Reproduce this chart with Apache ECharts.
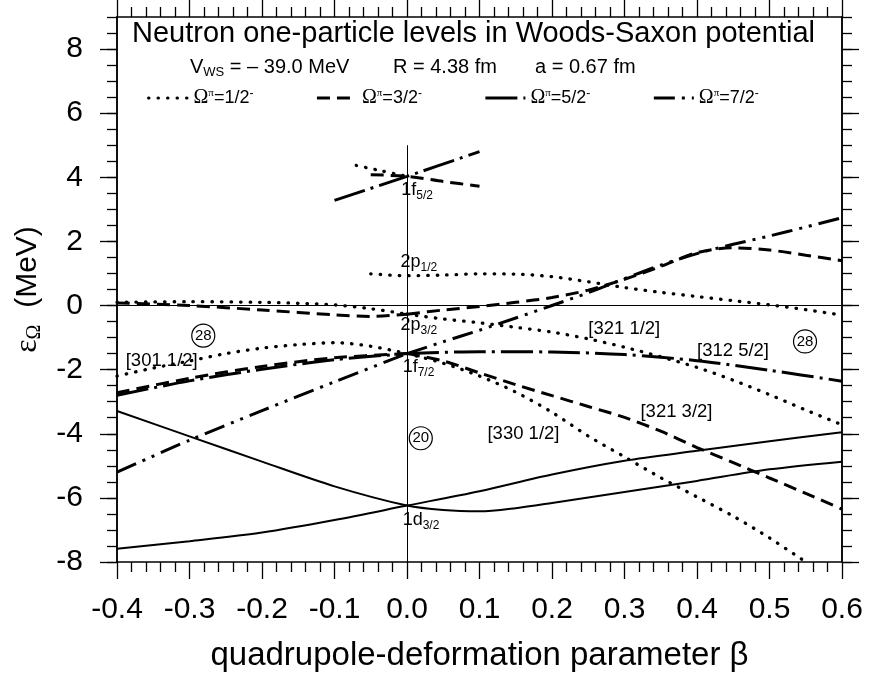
<!DOCTYPE html>
<html>
<head>
<meta charset="utf-8">
<title>Neutron one-particle levels in Woods-Saxon potential</title>
<script src="https://cdn.jsdelivr.net/npm/echarts@6/dist/echarts.min.js"></script>
<style>
  html, body { margin: 0; padding: 0; background: #fff; }
  #chart { width: 870px; height: 677px; }
</style>
</head>
<body>
<div id="chart"></div>
<script>
// axis tick labels
const xTicks = [-0.4, -0.3, -0.2, -0.1, 0.0, 0.1, 0.2, 0.3, 0.4, 0.5, 0.6];
const yTicks = [-8, -6, -4, -2, 0, 2, 4, 6, 8];

// Omega = 1/2 (dotted)
const half_p32_left = [[-0.4, 0.1], [-0.3, 0.12], [-0.2, 0.1], [-0.15, 0.07], [-0.1, 0.02], [-0.05, -0.1], [0, -0.27]];
const half_p32_right = [[0, -0.27], [0.05, -0.42], [0.1, -0.54], [0.15, -0.68], [0.2, -0.83], [0.25, -1.04], [0.3, -1.3],
  [0.35, -1.6], [0.4, -1.93], [0.45, -2.33], [0.5, -2.78], [0.55, -3.26], [0.6, -3.72]];
const half_f72_left = [[-0.4, -2.2], [-0.35, -1.95], [-0.3, -1.73], [-0.25, -1.5], [-0.2, -1.33], [-0.15, -1.22],
  [-0.1, -1.16], [-0.05, -1.27], [0, -1.5]];
const half_f72_right = [[0, -1.5], [0.05, -1.8], [0.1, -2.2], [0.15, -2.7], [0.2, -3.33], [0.25, -4.07], [0.3, -4.72],
  [0.35, -5.37], [0.4, -5.97], [0.45, -6.57], [0.5, -7.25], [0.55, -8.0]];
const half_p12 = [[-0.05, 0.99], [0, 0.93], [0.05, 0.95], [0.1, 0.99], [0.15, 0.98], [0.2, 0.9], [0.25, 0.74], [0.3, 0.56],
  [0.35, 0.41], [0.4, 0.28], [0.45, 0.15], [0.5, 0.02], [0.55, -0.13], [0.6, -0.3]];
const half_f52 = [[-0.07, 4.37], [-0.035, 4.2], [0, 4.03]];

// Omega = 3/2 (dashed)
const three_p32_left = [[-0.4, 0.08], [-0.3, 0.0], [-0.2, -0.14], [-0.1, -0.29], [-0.05, -0.34], [0, -0.27]];
const three_p32_right = [[0, -0.27], [0.05, -0.14], [0.1, -0.03], [0.15, 0.1], [0.2, 0.25], [0.25, 0.48], [0.3, 0.82],
  [0.35, 1.22], [0.4, 1.65], [0.45, 1.8], [0.5, 1.73], [0.55, 1.57], [0.6, 1.4]];
const three_f72_left = [[-0.4, -2.72], [-0.3, -2.27], [-0.2, -1.9], [-0.1, -1.63], [0, -1.5]];
const three_f72_right = [[0, -1.5], [0.05, -1.73], [0.1, -2.1], [0.15, -2.47], [0.2, -2.81], [0.25, -3.15], [0.3, -3.49],
  [0.35, -3.92], [0.4, -4.43], [0.45, -4.9], [0.5, -5.38], [0.55, -5.86], [0.6, -6.35]];
const three_f52 = [[-0.05, 4.08], [0, 4.03], [0.05, 3.87], [0.1, 3.72]];

// Omega = 5/2 (long dash - dot)
const five_f72_left = [[-0.4, -2.8], [-0.3, -2.35], [-0.2, -1.99], [-0.1, -1.69], [0, -1.5]];
const five_f72_right = [[0, -1.5], [0.1, -1.44], [0.2, -1.45], [0.3, -1.53], [0.4, -1.72], [0.5, -2.02], [0.6, -2.36]];
const five_f52 = [[-0.1, 3.28], [0, 4.03], [0.1, 4.8]];

// Omega = 7/2 (dash - dot - dot)
const seven_f72_left = [[-0.4, -5.2], [-0.3, -4.2], [-0.2, -3.28], [-0.1, -2.38], [0, -1.5]];
const seven_f72_right = [[0, -1.5], [0.05, -1.13], [0.1, -0.77], [0.15, -0.39], [0.2, 0.0], [0.25, 0.4], [0.3, 0.84],
  [0.35, 1.26], [0.4, 1.62], [0.45, 1.91], [0.5, 2.17], [0.55, 2.45], [0.6, 2.74]];

// 1d3/2 levels (solid)
const d32_half = [[-0.4, -3.29], [-0.3, -4.08], [-0.2, -4.87], [-0.1, -5.64], [0, -6.24], [0.05, -6.38], [0.1, -6.42],
  [0.15, -6.32], [0.2, -6.16], [0.3, -5.82], [0.4, -5.47], [0.5, -5.11], [0.6, -4.87]];
const d32_three = [[-0.4, -7.59], [-0.3, -7.35], [-0.2, -7.08], [-0.1, -6.69], [0, -6.24], [0.1, -5.79], [0.2, -5.27],
  [0.3, -4.84], [0.4, -4.53], [0.5, -4.23], [0.6, -3.95]];

// spherical state labels and asymptotic quantum numbers
const statePos = [[-0.008, 3.59], [-0.009, 1.35], [-0.009, -0.62], [-0.006, -1.93], [-0.006, -6.7]];
const stateText = [['1f', '5/2'], ['2p', '1/2'], ['2p', '3/2'], ['1f', '7/2'], ['1d', '3/2']];
const nilssonPos = [[-0.388, -1.72], [0.25, -0.72], [0.4, -1.43], [0.322, -3.31], [0.111, -4.02]];
const nilssonText = ['[301 1/2]', '[321 1/2]', '[312 5/2]', '[321 3/2]', '[330 1/2]'];
const magicPos = [[-0.281, -0.94], [0.019, -4.14], [0.549, -1.12]];
const magicText = ['28', '20', '28'];

const FONT = '"Liberation Sans", Arial, sans-serif';
const SERIF = '"Liberation Serif", "Times New Roman", serif';

const styles = {
  dot: { color: '#000', width: 3.3, type: [0.5, 9], cap: 'round' },
  dash: { color: '#000', width: 3, type: [13, 7] },
  dashDot: { color: '#000', width: 3, type: [32, 6, 3, 6] },
  dashDotDot: { color: '#000', width: 3, type: [21, 7, 3, 7, 3, 7] },
  solid: { color: '#000', width: 2 }
};

const curves = [
  ['d3/2', 'solid', d32_half], ['d3/2', 'solid', d32_three],
  ['1/2', 'dot', half_p32_left], ['1/2', 'dot', half_p32_right], ['1/2', 'dot', half_f72_left],
  ['1/2', 'dot', half_f72_right], ['1/2', 'dot', half_p12], ['1/2', 'dot', half_f52],
  ['3/2', 'dash', three_p32_left], ['3/2', 'dash', three_p32_right], ['3/2', 'dash', three_f72_left],
  ['3/2', 'dash', three_f72_right], ['3/2', 'dash', three_f52],
  ['5/2', 'dashDot', five_f72_left], ['5/2', 'dashDot', five_f72_right], ['5/2', 'dashDot', five_f52],
  ['7/2', 'dashDotDot', seven_f72_left], ['7/2', 'dashDotDot', seven_f72_right]
];

const series = curves.map(function (c) {
  return {
    name: c[0],
    type: 'line',
    data: c[2],
    symbol: 'none',
    smooth: 0.3,
    lineStyle: styles[c[1]]
  };
});

// reference lines beta = 0 and e = 0
series[0].markLine = {
  silent: true,
  symbol: 'none',
  label: { show: false },
  lineStyle: { color: '#000', width: 1, type: 'solid' },
  data: [
    [{ coord: [0, 5] }, { coord: [0, -8] }],
    { yAxis: 0 }
  ]
};

series.push({
  name: 'states',
  type: 'scatter',
  symbolSize: 0,
  itemStyle: { opacity: 1 },
  data: statePos.map(function (p, i) { return { value: p, text: stateText[i] }; }),
  label: {
    show: true,
    position: 'right',
    distance: 0,
    color: '#000',
    formatter: function (p) { return '{m|' + p.data.text[0] + '}{s|' + p.data.text[1] + '}'; },
    rich: {
      m: { fontFamily: FONT, fontSize: 18, lineHeight: 22, color: '#000' },
      s: { fontFamily: FONT, fontSize: 12, lineHeight: 10, verticalAlign: 'bottom', color: '#000' }
    }
  },
  z: 5
});

series.push({
  name: 'nilsson',
  type: 'scatter',
  symbolSize: 0,
  itemStyle: { opacity: 1 },
  data: nilssonPos.map(function (p, i) { return { value: p, text: nilssonText[i] }; }),
  label: {
    show: true,
    position: 'right',
    distance: 0,
    color: '#000',
    fontFamily: FONT,
    fontSize: 18.5,
    formatter: function (p) { return p.data.text; }
  },
  z: 5
});

series.push({
  name: 'magic',
  type: 'scatter',
  symbol: 'circle',
  symbolSize: 23,
  itemStyle: { color: 'rgba(0,0,0,0)', borderColor: '#000', borderWidth: 1.2, opacity: 1 },
  data: magicPos.map(function (p, i) { return { value: p, text: magicText[i] }; }),
  label: {
    show: true,
    position: 'inside',
    color: '#000',
    fontFamily: FONT,
    fontSize: 15,
    formatter: function (p) { return p.data.text; }
  },
  z: 5
});

const frameLine = { show: true, onZero: false, lineStyle: { color: '#000', width: 1.5 } };

const option = {
  animation: false,
  backgroundColor: '#fff',
  textStyle: { fontFamily: FONT, color: '#000' },
  grid: { left: 117, right: 28, top: 17, bottom: 115, containLabel: false },
  title: [
    {
      text: 'Neutron one-particle levels in Woods-Saxon potential',
      left: 132, top: 19, padding: 0,
      textStyle: { fontFamily: FONT, fontSize: 29, fontWeight: 'normal', color: '#000' }
    },
    {
      text: '{v|V}{s|WS}{v| = \u2013 39.0 MeV}',
      left: 190, top: 55, padding: 0,
      textStyle: {
        fontWeight: 'normal',
        rich: {
          v: { fontFamily: FONT, fontSize: 20, lineHeight: 24, fontWeight: 'normal', color: '#000' },
          s: { fontFamily: FONT, fontSize: 13, lineHeight: 12, verticalAlign: 'bottom', fontWeight: 'normal', color: '#000' }
        }
      }
    },
    {
      text: 'R = 4.38 fm',
      left: 393, top: 55, padding: 0,
      textStyle: { fontFamily: FONT, fontSize: 20, lineHeight: 24, fontWeight: 'normal', color: '#000' }
    },
    {
      text: 'a = 0.67 fm',
      left: 535, top: 55, padding: 0,
      textStyle: { fontFamily: FONT, fontSize: 20, lineHeight: 24, fontWeight: 'normal', color: '#000' }
    }
  ],
  legend: {
    data: ['1/2', '3/2', '5/2', '7/2'],
    left: 147,
    top: 88,
    padding: 0,
    itemWidth: 40,
    itemHeight: 14,
    itemGap: 62,
    selectedMode: false,
    itemStyle: { opacity: 0 },
    lineStyle: { width: 3 },
    formatter: function (name) { return '{o|\u03A9}{p|\u03C0}{t|=' + name + '}{m|-}'; },
    textStyle: {
      rich: {
        o: { fontFamily: SERIF, fontSize: 20, lineHeight: 20, color: '#000' },
        p: { fontFamily: SERIF, fontSize: 11, lineHeight: 8, verticalAlign: 'top', color: '#000' },
        t: { fontFamily: FONT, fontSize: 18, lineHeight: 20, color: '#000' },
        m: { fontFamily: FONT, fontSize: 12, lineHeight: 8, verticalAlign: 'top', color: '#000' }
      }
    }
  },
  xAxis: [
    {
      type: 'value', position: 'bottom', min: -0.4, max: 0.6, interval: 0.1,
      axisLine: frameLine,
      axisTick: { show: true, inside: false, length: 17, lineStyle: { color: '#000', width: 1.3 } },
      minorTick: { show: true, splitNumber: 5, length: 10, lineStyle: { color: '#000', width: 1.3 } },
      splitLine: { show: false },
      axisLabel: {
        customValues: xTicks,
        formatter: function (v) { return v.toFixed(1); },
        fontFamily: FONT, fontSize: 30, color: '#000', margin: 33
      },
      name: 'quadrupole-deformation parameter \u03B2',
      nameLocation: 'middle',
      nameGap: 77,
      nameTextStyle: { fontFamily: FONT, fontSize: 33, color: '#000' }
    },
    {
      type: 'value', position: 'top', min: -0.4, max: 0.6, interval: 0.1,
      axisLine: frameLine,
      axisTick: { show: true, inside: false, length: 17, lineStyle: { color: '#000', width: 1.3 } },
      minorTick: { show: true, splitNumber: 5, length: 10, lineStyle: { color: '#000', width: 1.3 } },
      splitLine: { show: false },
      axisLabel: { show: false }
    }
  ],
  yAxis: [
    {
      type: 'value', position: 'left', min: -8, max: 9, interval: 0.5,
      axisLine: frameLine,
      axisTick: { show: true, inside: false, length: 10, lineStyle: { color: '#000', width: 1.3 } },
      splitLine: { show: false },
      axisLabel: { show: false }
    },
    {
      type: 'value', position: 'left', min: -8, max: 9,
      axisLine: frameLine,
      axisTick: { show: true, inside: false, length: 17, customValues: yTicks, lineStyle: { color: '#000', width: 1.3 } },
      splitLine: { show: false },
      axisLabel: { customValues: yTicks, fontFamily: FONT, fontSize: 30, color: '#000', margin: 34 },
      name: '{e|\u03B5}{o|\u03A9}{n|  (MeV)}',
      nameLocation: 'middle',
      nameGap: 72,
      nameTextStyle: {
        rich: {
          e: { fontFamily: SERIF, fontSize: 32, lineHeight: 34, color: '#000' },
          o: { fontFamily: SERIF, fontSize: 20, lineHeight: 14, verticalAlign: 'bottom', color: '#000' },
          n: { fontFamily: FONT, fontSize: 30, lineHeight: 34, color: '#000' }
        }
      }
    },
    {
      type: 'value', position: 'right', min: -8, max: 9, interval: 0.5,
      axisLine: frameLine,
      axisTick: { show: true, inside: false, length: 10, lineStyle: { color: '#000', width: 1.3 } },
      splitLine: { show: false },
      axisLabel: { show: false }
    },
    {
      type: 'value', position: 'right', min: -8, max: 9,
      axisLine: frameLine,
      axisTick: { show: true, inside: false, length: 17, customValues: yTicks, lineStyle: { color: '#000', width: 1.3 } },
      splitLine: { show: false },
      axisLabel: { show: false }
    }
  ],
  series: series
};

const chart = echarts.init(document.getElementById('chart'));
chart.setOption(option);
window.addEventListener('resize', function () { chart.resize(); });
</script>
</body>
</html>
